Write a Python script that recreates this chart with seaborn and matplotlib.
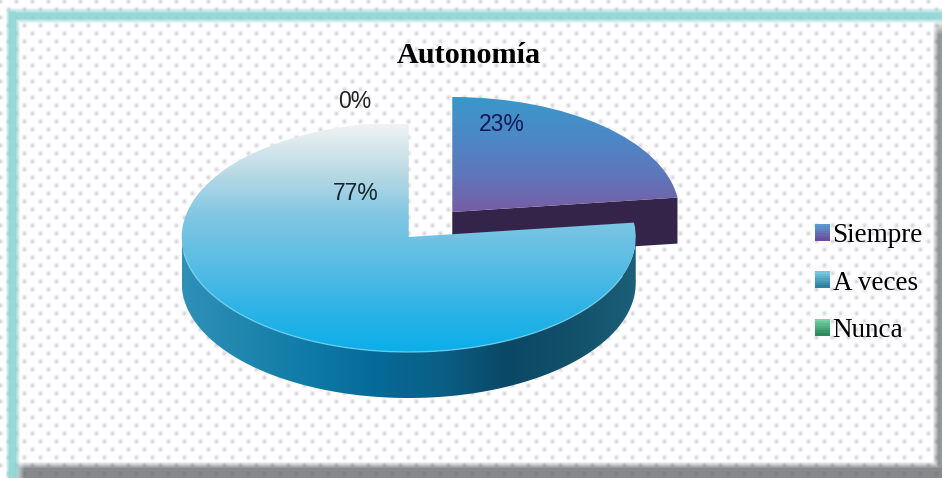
#!/usr/bin/env python3
# -*- coding: utf-8 -*-
import numpy as np
import matplotlib
matplotlib.use("Agg")
import matplotlib.pyplot as plt
import seaborn as sns
from matplotlib.legend_handler import HandlerBase
from matplotlib.patches import Patch, Polygon, Rectangle
from matplotlib.transforms import Affine2D

# data
categories = ["Siempre", "A veces", "Nunca"]
values = [23, 77, 0]
title = "Autonomía"

W, H = 942, 478
RX, RY = 227, 115
DEPTH = 46
CX, CY = 430.5, 224.5

sns.set_theme(style="white")
plt.rcParams["font.family"] = ["Liberation Sans", "DejaVu Sans"]


def hex_rgb(c):
    return np.array(matplotlib.colors.to_rgb(c))


# background texture, dots + frame
yy, xx = np.mgrid[0:H, 0:W]
dots = np.zeros((H, W))
for ox, oy in [(0, 1), (8, 9)]:
    dx = (xx - ox + 8) % 16 - 8
    dy = (yy - oy + 8) % 16 - 8
    dots += np.exp(-(dx ** 2 + dy ** 2) / (2 * 1.5 ** 2))
img = np.ones((H, W, 3))
dot_col = hex_rgb("#a9a9c0")
img = img * (1 - 0.5 * dots[..., None]) + dot_col * 0.5 * dots[..., None]

# right + bottom shadow
right = np.clip((xx - 932) / 6.0, 0, 1) * np.clip((yy - 20) / 14.0, 0, 1) * 0.62
bottom = np.clip((yy - 461) / 7.0, 0, 1) * np.clip((xx - 12) / 12.0, 0, 1) * 0.7
shade = np.maximum(right, bottom)[..., None]
img = img * (1 - shade) + hex_rgb("#55595c") * shade

# left + top teal band, soft edges
left = np.clip((xx - 5) / 4.0, 0, 1) * np.clip((20 - xx) / 5.0, 0, 1) * np.clip((yy - 7) / 5.0, 0, 1)
top = np.clip((yy - 7) / 6.0, 0, 1) * np.clip((23 - yy) / 5.0, 0, 1) * np.clip((xx - 5) / 4.0, 0, 1)
band = np.maximum(left, top)[..., None] * 0.85
img = img * (1 - band) + hex_rgb("#86d2d0") * band

fig = plt.figure(figsize=(W / 100, H / 100), dpi=100)
ax = fig.add_axes([0, 0, 1, 1])
ax.imshow(img, extent=(0, W, H, 0), aspect="auto", zorder=0, interpolation="bilinear")

wedges, _ = ax.pie(values, startangle=90, counterclock=False,
                   explode=[0.145, 0.145, 0.145], radius=1)
ax.set_aspect("auto")
ax.set_xlim(0, W)
ax.set_ylim(H, 0)
ax.axis("off")

to_px = Affine2D().scale(RX, -RY).translate(CX, CY)
for w in wedges:
    w.set_transform(to_px + ax.transData)
    w.set_facecolor("none")
    w.set_edgecolor("none")


def rim(wedge, t0, t1, n=120):
    t = np.radians(np.linspace(t0, t1, n))
    pts = np.column_stack([wedge.center[0] + np.cos(t), wedge.center[1] + np.sin(t)])
    return to_px.transform(pts)


def gradient(stops, clip, extent, z, horizontal=False):
    pal = np.array(sns.blend_palette(stops, n_colors=256))
    pic = pal[:, None, :] if not horizontal else pal[None, :, :]
    im = ax.imshow(pic, extent=extent, aspect="auto", zorder=z, interpolation="bilinear")
    im.set_clip_path(clip)
    return im


def wall(pts, stops, z):
    poly = Polygon(pts, closed=True, facecolor="none", edgecolor="none", transform=ax.transData)
    ax.add_patch(poly)
    return gradient(stops, poly, (pts[:, 0].min(), pts[:, 0].max(), H, 0), z, horizontal=True)


small, big = wedges[0], wedges[1]

# dark side of the Siempre slice
centre_px = to_px.transform([small.center])
top_edge = np.vstack([centre_px, rim(small, small.theta1, small.theta1, 1)])
side = np.vstack([top_edge, (top_edge + [0, DEPTH])[::-1]])
ax.add_patch(Polygon(side, closed=True, facecolor="#35244a", edgecolor="none", zorder=2))

gradient(["#3a98c9", "#4c88c6", "#5f76bb", "#7a5ba3"], small, (CX, 700, 215, 97), 3)

# outer wall of the A veces slice
arc = rim(big, -180, 0)
side = np.vstack([arc, (arc + [0, DEPTH])[::-1]])
wall(side, ["#2f90b8", "#1f86ad", "#0e7aa6", "#066a98", "#0a5f85", "#0a4866", "#13506a", "#1b5f78"], 4)

gradient(["#f1f3f3", "#bcdbe5", "#80c6e3", "#5abde4", "#2fb3e6", "#08aeea"],
         big, (170, 650, 355, 124), 5)
ax.plot(*rim(big, -172, -20).T, color="#7fd8f0", lw=1, alpha=0.7, zorder=6)

ax.text(469, 55, title, family=["Liberation Serif", "DejaVu Serif"], weight="bold",
        fontsize=21.7, color="black", ha="center", va="center", zorder=8)

label_xy = [(502, 124), (356, 194), (355, 101)]
label_col = ["#10185a", "#16252f", "#222222"]
for v, (x, y), c in zip(values, label_xy, label_col):
    ax.text(x, y, f"{v}%", fontsize=16.5, color=c, ha="center", va="center", zorder=8)


# legend with little gradient squares
class GradHandler(HandlerBase):
    def __init__(self, stops):
        super().__init__()
        self.stops = stops

    def create_artists(self, legend, orig_handle, xdescent, ydescent, width, height, fontsize, trans):
        pal = sns.blend_palette(self.stops, n_colors=7)
        out = []
        for i, c in enumerate(pal):
            out.append(Rectangle((-xdescent, -ydescent + height * (6 - i) / 7), width, height / 7 + 0.3,
                                 facecolor=c, edgecolor="none", transform=trans))
        return out


handles = [Patch(label=c) for c in categories]
grads = [["#5d9ad0", "#6a4f9c"], ["#72c8de", "#2f7fa0"], ["#78d4a8", "#2c8a5c"]]
leg = ax.legend(handles=handles, handler_map={h: GradHandler(g) for h, g in zip(handles, grads)},
                loc="center left", bbox_to_anchor=(815, 283), bbox_transform=ax.transData,
                frameon=False, borderpad=0, borderaxespad=0,
                prop={"family": "Liberation Serif", "size": 19.5},
                handlelength=0.55, handleheight=0.55, handletextpad=0.1, labelspacing=0.83)
leg.set_zorder(8)
for t in leg.get_texts():
    t.set_color("black")

fig.savefig("out.png", dpi=100)
